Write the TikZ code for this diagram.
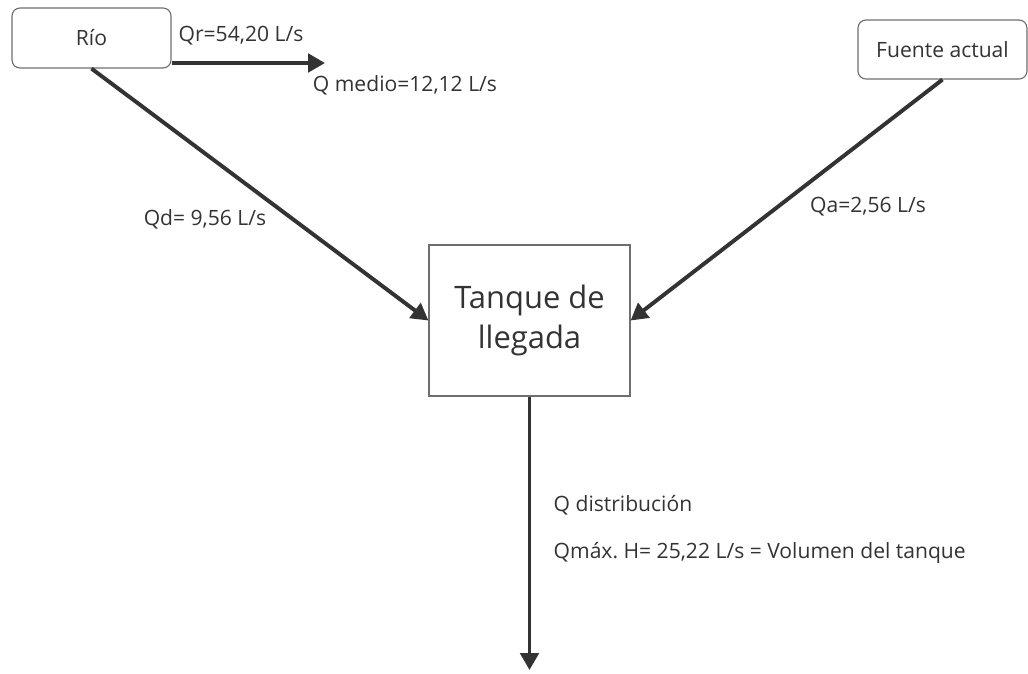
\documentclass[tikz,border=0pt]{standalone}
\usepackage{fontspec}
\setmainfont{Open Sans}
\usetikzlibrary{positioning, arrows.meta}
\tikzset{every picture/.style={line width=1pt}}
\definecolor{flow-gray}{RGB}{51,51,51}
\definecolor{box-gray}{RGB}{110,110,110}

\begin{document}
\frenchspacing
\begin{tikzpicture}
    [src/.style = {rectangle, draw=box-gray, line width=0.8pt, align=center,
            rounded corners=0.2cm, font=\fontsize{15}{18}\selectfont, text=flow-gray},
    tank/.style = {rectangle, draw=box-gray, line width=0.8pt, align=center,
            font=\fontsize{22}{29}\selectfont, text=flow-gray},
    lbl/.style = {font=\fontsize{15}{18}\selectfont, text=flow-gray, inner sep=0pt},
    flow/.style = {draw=flow-gray, line width=2.8pt,
            -{Triangle[length=12pt, width=13pt]}},
    ]
    \useasboundingbox (0,0) rectangle (25.7,-16.825);

	\node[src, minimum height=1.5cm, minimum width=3.975cm] (rio) at (2.2875, -0.95) {Río};
	\node[src, minimum height=1.475cm, minimum width=4.225cm] (fuente) at (23.5625, -1.2375) {Fuente actual};
	\node[tank, minimum height=3.775cm, minimum width=5.025cm] (tanque) at (13.2375, -8.0125) {Tanque de\\llegada};
	
	\coordinate (qr-end) at (8.125, -1.575);
	\coordinate (dist-end) at (13.2375, -16.75);
	
	\node[lbl] (qr-text) at (6.025, -0.9) {Qr=54,20 L/s};
	\node[lbl] (qm-text) at (10.125, -2.125) {Q medio=12,12 L/s};
	\node[lbl] (qd-text) at (5.125, -5.475) {Qd= 9,56 L/s};
	\node[lbl] (qa-text) at (21.7, -5.175) {Qa=2,56 L/s};
	\node[lbl, anchor=west] (qdist-text) at (13.825, -12.625) {Q distribución};
	\node[lbl, anchor=west] (qmax-text) at (13.825, -13.825) {Qmáx. H= 25,22 L/s = Volumen del tanque};
	
    \draw[flow] (rio.east |- qr-end) -- (qr-end);
    \draw[flow] (rio.south) -- (tanque.west);
    \draw[flow] (fuente.south) -- (tanque.east);
    \draw[flow] (tanque.south) -- (dist-end);
\end{tikzpicture}
\end{document}
